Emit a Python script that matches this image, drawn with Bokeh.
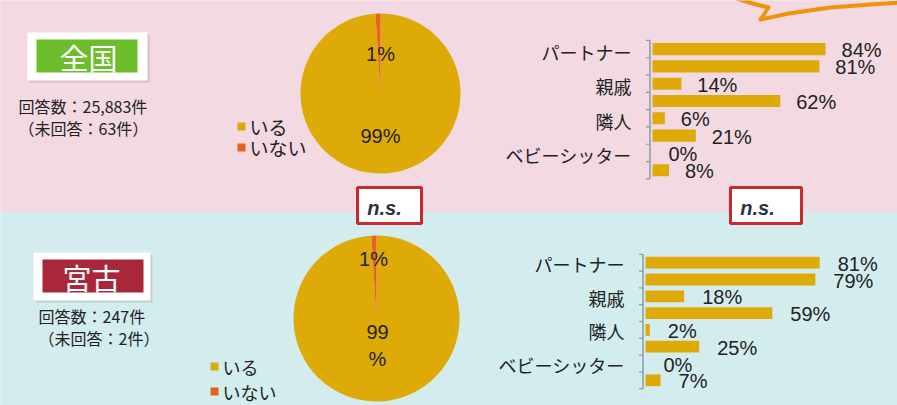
import math
from bokeh.plotting import figure
from bokeh.models import Range1d, ColumnDataSource
from bokeh.embed import file_html
from bokeh.resources import INLINE
from bokeh.core.properties import value

# ---------------- data ----------------
regions = ["全国", "宮古"]
answer_counts = ["回答数：25,883件", "回答数：247件"]
unanswered = ["（未回答：63件）", "（未回答：2件）"]
pie_labels = ["いる", "いない"]
pie_zenkoku = [99, 1]
pie_miyako = [99, 1]
bar_categories = ["パートナー", "親戚", "隣人", "ベビーシッター"]
zenkoku_a = [84, 14, 6, 0]
zenkoku_b = [81, 62, 21, 8]
miyako_a = [81, 18, 2, 0]
miyako_b = [79, 59, 25, 7]
test_results = ["n.s.", "n.s."]

# ---------------- style ----------------
PINK = "#F2D9E2"
BLUE = "#D3EDEE"
GOLD = "#DDAA08"
ORANGE = "#E8641C"
GREEN = "#6CBD2C"
DARKRED = "#A8283A"
NSRED = "#C8282E"
AXIS = "#8C98AA"
TXT = "#222222"
JP = value("Noto Sans CJK JP")
LAT = value("Liberation Sans")

W, H = 897, 405
p = figure(width=W, height=H, x_range=Range1d(0, W), y_range=Range1d(0, H),
           output_backend="svg", toolbar_location=None, min_border=0,
           x_axis_location=None, y_axis_location=None)
p.grid.visible = False
p.outline_line_color = None
p.background_fill_color = PINK
p.border_fill_color = PINK


def sy(py):
    return H - py


# backgrounds
p.quad(left=[-5, -5], right=[905, 905], top=[sy(-5), sy(211)], bottom=[sy(211), sy(410)],
       color=[PINK, BLUE], line_color=None)

# speech bubble outline (decoration)
bx = [736, 752, 768, 760, 788, 830, 870, 900]
by = [-2, 3, 7, 19, 13, 7, 4, 2]
p.line(bx, [sy(v) for v in by], line_color="#F0920A", line_width=4, line_join="round")

# ---------------- region label boxes ----------------
boxes = [
    dict(outer=(27, 147, 32, 80), inner=(36, 137, 39, 72), col=GREEN, tx=88, ty=56,
         sx=18, s1=105, s2=127),
    dict(outer=(33, 150, 252, 300), inner=(42, 143, 259, 292), col=DARKRED, tx=91, ty=276,
         sx=38, s1=315, s2=337),
]
for i, b in enumerate(boxes):
    l, r, t, bt = b["outer"]
    p.quad(left=l + 2, right=r + 2, top=sy(t + 2), bottom=sy(bt + 2), color="#9a9a9a",
           alpha=0.35, line_color=None)
    p.quad(left=l, right=r, top=sy(t), bottom=sy(bt), color="white", line_color=None)
    l, r, t, bt = b["inner"]
    p.quad(left=l, right=r, top=sy(t), bottom=sy(bt), color=b["col"], line_color=None)
    p.text(x=[b["tx"]], y=[sy(b["ty"])], text=[regions[i]], text_font=JP,
           text_font_size="29px", text_color="white", text_align="center",
           text_baseline="middle")
    p.text(x=[b["sx"], b["sx"]], y=[sy(b["s1"]), sy(b["s2"])],
           text=[answer_counts[i], unanswered[i]], text_font=JP, text_font_size="16px",
           text_color=TXT, text_align="left", text_baseline="middle")


# ---------------- pies ----------------
def pie(cx, cy, r, vals):
    starts, ends = [], []
    cum = 0
    for v in vals:
        a0 = 90 - 360 * cum / 100
        cum += v
        a1 = 90 - 360 * cum / 100
        starts.append(math.radians(a1))
        ends.append(math.radians(a0))
    src = ColumnDataSource(dict(s=starts, e=ends, c=[GOLD, ORANGE]))
    p.wedge(x=cx, y=sy(cy), radius=r, start_angle="s", end_angle="e", fill_color="c",
            line_color=None, source=src)


pie(380, 93, 80, pie_zenkoku)
pie(376, 318, 83, pie_miyako)

p.text(x=[380, 380], y=[sy(53), sy(135)],
       text=[f"{pie_zenkoku[1]}%", f"{pie_zenkoku[0]}%"], text_font=LAT,
       text_font_size="20px", text_color=TXT, text_align="center", text_baseline="middle")
p.text(x=[373, 377], y=[sy(258), sy(345)],
       text=[f"{pie_miyako[1]}%", f"{pie_miyako[0]}\n%"], text_font=LAT,
       text_font_size="20px", text_color=TXT, text_align="center", text_baseline="middle",
       text_line_height=1.25)

# legends
for (qx, qy1, qy2, fs) in [(241, 126, 147, "19px"), (214, 366, 391, "18px")]:
    p.scatter(x=[qx, qx], y=[sy(qy1), sy(qy2)], marker="square", size=8,
              color=[GOLD, ORANGE], line_color=None)
    p.text(x=[qx + 8, qx + 8], y=[sy(qy1), sy(qy2)], text=pie_labels, text_font=JP,
           text_font_size=fs, text_color=TXT, text_align="left", text_baseline="middle")

# ---------------- n.s. boxes ----------------
for (l, r) in [(357, 421), (730, 801)]:
    p.quad(left=l, right=r, top=sy(187), bottom=sy(223), fill_color="white",
           line_color=NSRED, line_width=3)
for (tx, t) in zip([384, 757], test_results):
    p.text(x=[tx], y=[sy(207)], text=[t], text_font=LAT, text_font_size="20px",
           text_font_style="bold italic", text_color="#2A3440", text_align="center",
           text_baseline="middle")

# ---------------- bar charts ----------------
xr_extra, yr_extra = {}, {}


def bar_chart(name, cats, a, b, x0, px_per, y0, px_step, label_off, cat_dy):
    xr, yr = name + "_x", name + "_y"
    xr_extra[xr] = Range1d((0 - x0) / px_per, (W - x0) / px_per)
    yr_extra[yr] = Range1d((H - y0) / px_step, (0 - y0) / px_step)
    ks, vals = [], []
    for i, (va, vb) in enumerate(zip(a, b)):
        ks += [2 * i, 2 * i + 1]
        vals += [va, vb]
    src = ColumnDataSource(dict(k=ks, v=vals, lab=[f"{v}%" for v in vals]))
    p.hbar(y="k", left=0, right="v", height=0.7, source=src, fill_color=GOLD,
           line_color=None, x_range_name=xr, y_range_name=yr)
    p.text(x="v", y="k", text="lab", source=src, x_offset=label_off, y_offset=1,
           text_font=LAT, text_font_size="20px", text_color=TXT, text_align="left",
           text_baseline="middle", x_range_name=xr, y_range_name=yr)
    ax = -2.5 / px_per
    n = 2 * len(cats)
    p.segment(x0=[ax], y0=[-0.5], x1=[ax], y1=[n - 0.5], line_color=AXIS, line_width=1.5,
              x_range_name=xr, y_range_name=yr)
    ticks = [k - 0.5 for k in range(n + 1)]
    p.segment(x0=[ax - 4 / px_per] * len(ticks), y0=ticks, x1=[ax] * len(ticks), y1=ticks,
              line_color=AXIS, line_width=1.2, x_range_name=xr, y_range_name=yr)
    p.text(x=[0] * len(cats), y=[2 * i for i in range(len(cats))], text=cats,
           x_offset=-21, y_offset=cat_dy, text_font=JP, text_font_size="18px",
           text_color=TXT, text_align="right", text_baseline="middle",
           x_range_name=xr, y_range_name=yr)


bar_chart("zen", bar_categories, zenkoku_a, zenkoku_b, 652, 2.06, 48.6, 17.3, 16, 2.5)
bar_chart("miy", bar_categories, miyako_a, miyako_b, 645, 2.15, 262.2, 16.8, 18, 1.5)

p.extra_x_ranges = xr_extra
p.extra_y_ranges = yr_extra

open("out.html", "w").write(file_html(p, INLINE))
